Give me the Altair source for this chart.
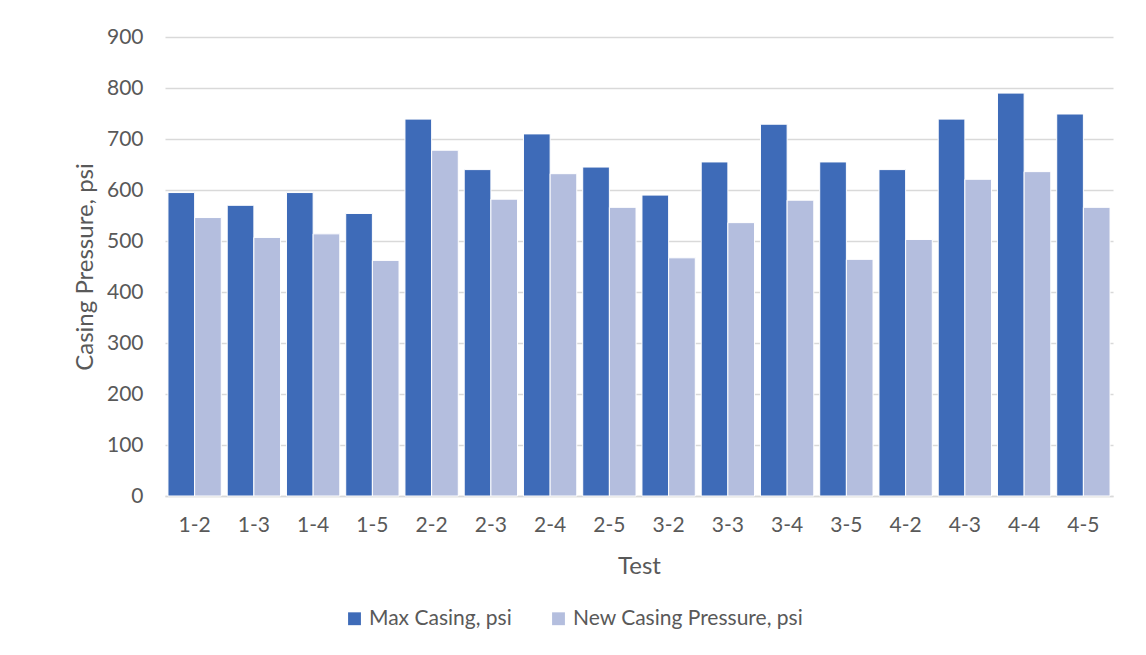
import altair as alt
import pandas as pd

tests = ["1-2", "1-3", "1-4", "1-5", "2-2", "2-3", "2-4", "2-5",
         "3-2", "3-3", "3-4", "3-5", "4-2", "4-3", "4-4", "4-5"]
max_casing = [595, 570, 595, 554, 739, 640, 710, 645,
              590, 655, 729, 655, 640, 739, 790, 749]
new_casing = [546, 507, 514, 462, 678, 582, 632, 566,
              467, 536, 580, 464, 503, 621, 636, 566]
series = ["Max Casing, psi", "New Casing Pressure, psi"]
colors = ["#3E6BB8", "#B4BEDE"]

rows = []
for t, a, b in zip(tests, max_casing, new_casing):
    rows.append({"Test": t, "Series": series[0], "Value": a})
    rows.append({"Test": t, "Series": series[1], "Value": b})
df = pd.DataFrame(rows)

FONT = "Lato"
TXT = "#595959"

chart = alt.Chart(df).mark_bar(stroke="white", strokeWidth=1).encode(
    x=alt.X("Test:N", sort=tests,
            scale=alt.Scale(paddingInner=0.1, paddingOuter=0.05),
            axis=alt.Axis(title="Test", labelAngle=0, labelPadding=18,
                          titlePadding=19, ticks=False, domainColor="#D9D9D9",
                          domainWidth=1.5)),
    xOffset=alt.XOffset("Series:N", sort=series),
    y=alt.Y("Value:Q", scale=alt.Scale(domain=[0, 900], nice=False),
            axis=alt.Axis(title="Casing Pressure, psi", values=list(range(0, 901, 100)),
                          ticks=False, domain=False, labelPadding=22,
                          titlePadding=9, gridColor="#D9D9D9", gridWidth=1.5)),
    color=alt.Color("Series:N", sort=series,
                    scale=alt.Scale(domain=series, range=colors),
                    legend=alt.Legend(title=None, orient="none", direction="horizontal",
                                      legendX=179, legendY=571, symbolType="square",
                                      symbolSize=165, symbolStrokeWidth=0,
                                      columnPadding=36, labelOffset=4, labelLimit=0)),
).properties(
    width=948, height=459,
    autosize=alt.AutoSizeParams(type="none"),
    padding={"left": 157, "top": 29, "right": 25, "bottom": 150},
).configure_axis(
    labelFont=FONT, titleFont=FONT, labelColor=TXT, titleColor=TXT,
    labelFontSize=21, titleFontSize=24, titleFontWeight="normal",
).configure_legend(
    labelFont=FONT, labelColor=TXT, labelFontSize=21,
).configure_view(stroke=None)

chart.save("out.html", embed_options={"renderer": "svg", "actions": False})
